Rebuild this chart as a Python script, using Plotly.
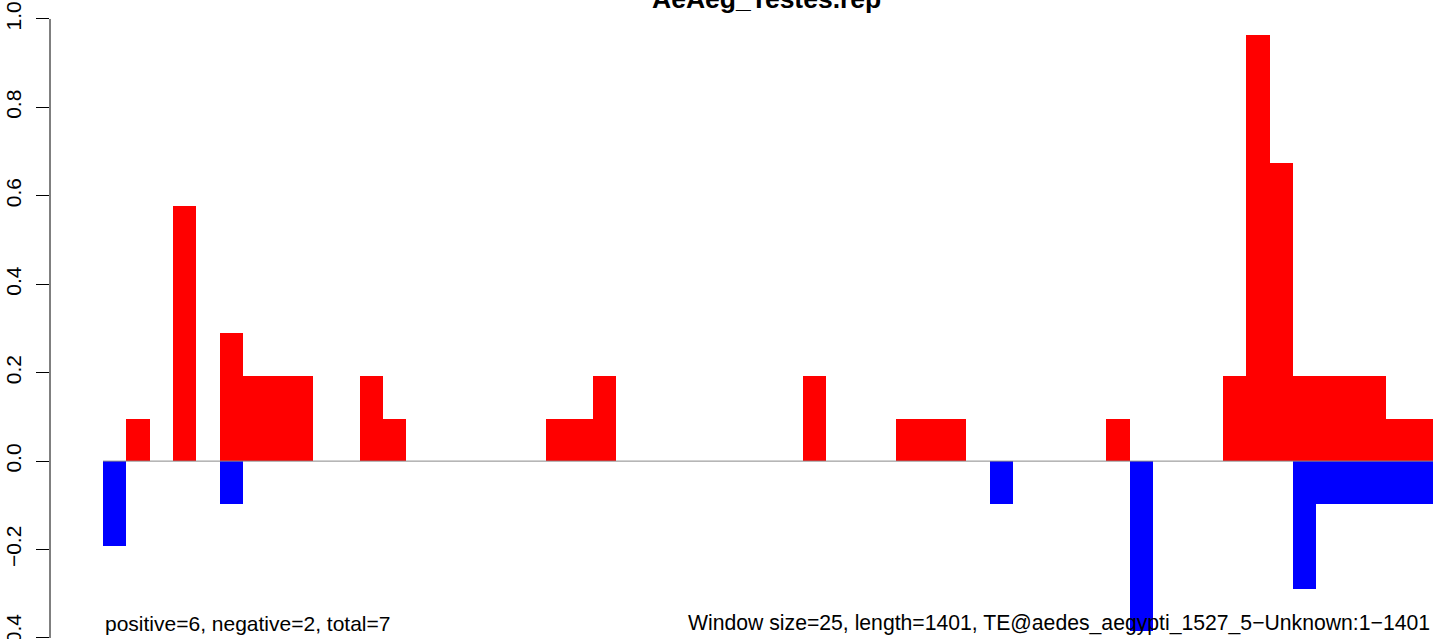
import plotly.graph_objects as go

# window scores, one value per 25 bp window (57 windows over 1401 bp)
window_size = 25
seq_length = 1401
positive = [
    0, 0.096, 0, 0.578, 0, 0.289, 0.193, 0.193, 0.193, 0,
    0, 0.193, 0.096, 0, 0, 0, 0, 0, 0, 0.096,
    0.096, 0.193, 0, 0, 0, 0, 0, 0, 0, 0,
    0.193, 0, 0, 0, 0.096, 0.096, 0.096, 0, 0, 0,
    0, 0, 0, 0.096, 0, 0, 0, 0, 0.193, 0.963,
    0.674, 0.193, 0.193, 0.193, 0.193, 0.096, 0.096,
]
negative = [
    -0.193, 0, 0, 0, 0, -0.096, 0, 0, 0, 0,
    0, 0, 0, 0, 0, 0, 0, 0, 0, 0,
    0, 0, 0, 0, 0, 0, 0, 0, 0, 0,
    0, 0, 0, 0, 0, 0, 0, 0, -0.096, 0,
    0, 0, 0, 0, -0.385, 0, 0, 0, 0, 0,
    0, -0.289, -0.096, -0.096, -0.096, -0.096, -0.096,
]
y_ticks = [-0.4, -0.2, 0.0, 0.2, 0.4, 0.6, 0.8, 1.0]
y_tick_labels = ["\u22120.4", "\u22120.2", "0.0", "0.2", "0.4", "0.6", "0.8", "1.0"]

title = "AeAeg_Testes.rep"
left_note = "positive=6, negative=2, total=7"
right_note = ("Window size=25, length=1401, "
              "TE@aedes_aegypti_1527_5\u2212Unknown:1\u22121401")

starts = [i * window_size for i in range(len(positive))]
centers = [s + window_size / 2 for s in starts]
x_end = starts[-1] + window_size

font = "Liberation Sans, Arial, sans-serif"

fig = go.Figure()
fig.add_trace(go.Scatter(
    x=[starts[0], x_end], y=[0, 0], mode="lines",
    line=dict(color="#888888", width=1), hoverinfo="skip", showlegend=False,
))
fig.add_trace(go.Bar(
    x=centers, y=positive, width=window_size,
    marker=dict(color="#ff0000", line=dict(width=0)), showlegend=False,
))
fig.add_trace(go.Bar(
    x=centers, y=negative, width=window_size,
    marker=dict(color="#0000ff", line=dict(width=0)), showlegend=False,
))

# y axis line only over the tick span, like base R
fig.add_shape(type="line", xref="paper", yref="y",
              x0=0, x1=0, y0=y_ticks[0], y1=y_ticks[-1],
              line=dict(color="black", width=1))

fig.add_annotation(text=f"<b>{title}</b>", xref="paper", yref="paper",
                   x=0.515, y=1, xanchor="center", yanchor="middle", yshift=1,
                   showarrow=False, font=dict(family=font, size=26.5, color="black"))
fig.add_annotation(text=left_note, xref="x", yref="paper",
                   x=starts[0], y=0, xanchor="left", yanchor="bottom", yshift=2,
                   showarrow=False, font=dict(family=font, size=21, color="black"))
fig.add_annotation(text=right_note, xref="x", yref="paper",
                   x=x_end, y=0, xanchor="right", yanchor="bottom", yshift=2, xshift=-1,
                   showarrow=False, font=dict(family=font, size=21.2, color="black"))

fig.update_layout(
    width=1441, height=639,
    margin=dict(l=50, r=0, t=0, b=0, autoexpand=False),
    paper_bgcolor="white", plot_bgcolor="white",
    barmode="overlay", bargap=0,
    font=dict(family=font, size=21, color="black"),
)
fig.update_xaxes(range=[-56.8, 1433.6], visible=False, showgrid=False,
                 zeroline=False, automargin=False)
fig.update_yaxes(
    range=[-0.4023, 1.0429], showgrid=False, zeroline=False, showline=False,
    automargin=False, ticklabeloverflow="allow",
    tickmode="array", tickvals=y_ticks, ticktext=y_tick_labels,
    ticks="outside", ticklen=13, tickwidth=1, tickcolor="black",
    tickangle=-90, ticklabelstandoff=7,
    tickfont=dict(family=font, size=21, color="black"),
)

# drop the page's default body margin so the figure fills the window
fig.write_html("out.html", config={"displayModeBar": False},
               post_script="document.body.style.margin='0';")
